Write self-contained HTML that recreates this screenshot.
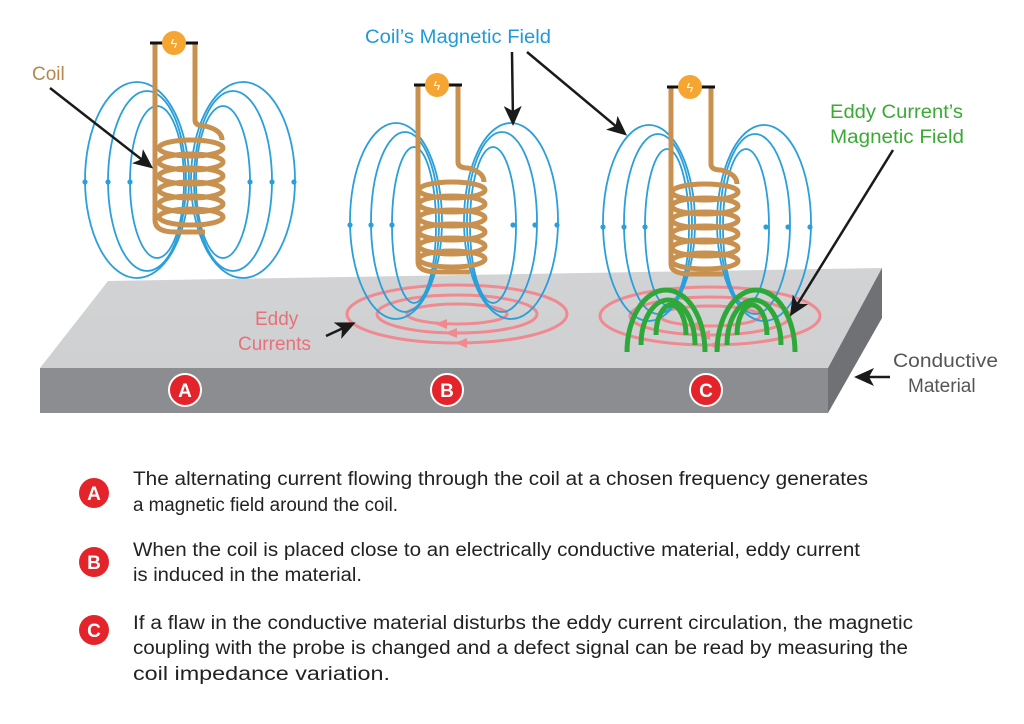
<!DOCTYPE html>
<html><head><meta charset="utf-8"><style>
html,body{margin:0;padding:0;background:#fff;}
svg{display:block;font-family:"Liberation Sans",sans-serif;}
</style></head><body>
<svg width="1024" height="724" viewBox="0 0 1024 724" xmlns="http://www.w3.org/2000/svg">
<defs>
<linearGradient id="top" x1="0" y1="0" x2="0" y2="1"><stop offset="0" stop-color="#d2d3d4"/><stop offset="1" stop-color="#cfd0d1"/></linearGradient>
<marker id="ahb" markerWidth="20" markerHeight="18" refX="16" refY="9" orient="auto" markerUnits="userSpaceOnUse"><path d="M0,0 L20,9 L0,18 L5,9 Z" fill="#1a1a1a"/></marker>
</defs>

<!-- slab -->
<polygon points="108,281 882,268 828,368 40,368" fill="url(#top)"/>
<polygon points="40,368 828,368 828,413 40,413" fill="#8b8d90"/>
<polygon points="828,368 882,268 882,318 828,413" fill="#6f7174"/>

<!-- Coil A field -->
<g fill="none" stroke="#2b9fd9" stroke-width="1.8">
<ellipse cx="137" cy="180" rx="52" ry="98"/>
<ellipse cx="147" cy="181" rx="39" ry="90"/>
<ellipse cx="157" cy="182" rx="27" ry="76"/>
<ellipse cx="243" cy="180" rx="52" ry="98"/>
<ellipse cx="233" cy="181" rx="39" ry="90"/>
<ellipse cx="223" cy="182" rx="27" ry="76"/>
</g>
<g fill="#2b9fd9"><circle cx="85" cy="182" r="2.6"/><circle cx="108" cy="182" r="2.6"/><circle cx="130" cy="182" r="2.6"/><circle cx="250" cy="182" r="2.6"/><circle cx="272" cy="182" r="2.6"/><circle cx="294" cy="182" r="2.6"/></g>
<!-- Coil A -->
<g fill="none" stroke="#c8914f" stroke-width="5">
<path d="M155,44 V220 Q155,232 175,232 H205"/>
<path d="M195,44 V120 Q195,126 205,126 Q222,130 222,140"/>
<ellipse cx="191" cy="148" rx="32" ry="8"/>
<ellipse cx="191" cy="162" rx="32" ry="8"/>
<ellipse cx="191" cy="176" rx="32" ry="8"/>
<ellipse cx="191" cy="190" rx="32" ry="8"/>
<ellipse cx="191" cy="204" rx="32" ry="8"/>
<ellipse cx="191" cy="217" rx="32" ry="8"/>
</g>
<path d="M150,43 H198" stroke="#111" stroke-width="3"/>
<circle cx="174" cy="43" r="12" fill="#f5a531"/>
<text x="174" y="48" font-size="13" fill="#fff" text-anchor="middle">ϟ</text>

<!-- B and C groups -->
<g id="grpB">
<g fill="none" stroke="#f08a90" stroke-width="3">
<ellipse cx="457" cy="314" rx="110" ry="29"/>
<ellipse cx="457" cy="314" rx="80" ry="19"/>
<ellipse cx="457" cy="314" rx="50" ry="10"/>
</g>
<g fill="#f08a90"><path d="M435,324 l12,-5 v10z"/><path d="M445,333 l12,-5 v10z"/><path d="M455,343 l12,-5 v10z"/></g>
<g fill="none" stroke="#2b9fd9" stroke-width="1.8">
<ellipse cx="396" cy="221" rx="46" ry="98"/>
<ellipse cx="405" cy="222" rx="34" ry="90"/>
<ellipse cx="414" cy="225" rx="22" ry="78"/>
<ellipse cx="511" cy="221" rx="47" ry="98"/>
<ellipse cx="502" cy="222" rx="35" ry="90"/>
<ellipse cx="493" cy="225" rx="23" ry="78"/>
</g>
<g fill="#2b9fd9"><circle cx="350" cy="225" r="2.6"/><circle cx="371" cy="225" r="2.6"/><circle cx="392" cy="225" r="2.6"/><circle cx="513" cy="225" r="2.6"/><circle cx="535" cy="225" r="2.6"/><circle cx="557" cy="225" r="2.6"/></g>
<g fill="none" stroke="#c8914f" stroke-width="5">
<path d="M418,86 V262 Q418,272 438,272 H470"/>
<path d="M458,86 V162 Q458,168 468,168 Q484,172 484,182"/>
<ellipse cx="452" cy="190" rx="33" ry="8"/>
<ellipse cx="452" cy="204" rx="33" ry="8"/>
<ellipse cx="452" cy="218" rx="33" ry="8"/>
<ellipse cx="452" cy="232" rx="33" ry="8"/>
<ellipse cx="452" cy="246" rx="33" ry="8"/>
<ellipse cx="452" cy="259" rx="33" ry="8"/>
</g>
<path d="M414,85 H462" stroke="#111" stroke-width="3"/>
<circle cx="437" cy="85" r="12" fill="#f5a531"/>
<text x="437" y="90" font-size="13" fill="#fff" text-anchor="middle">ϟ</text>
</g>
<use href="#grpB" transform="translate(253,2)"/>

<!-- green arcs at C -->
<g fill="none" stroke="#2fa83a" stroke-width="5">
<path d="M627,352 A39,62 0 0 1 705,352"/>
<path d="M641,345 A27,45 0 0 1 695,345"/>
<path d="M656,335 A15,30 0 0 1 686,335"/>
<path d="M717,352 A39,62 0 0 1 795,352"/>
<path d="M727,345 A27,45 0 0 1 781,345"/>
<path d="M737,335 A15,30 0 0 1 767,335"/>
</g>

<!-- badges on slab -->
<g font-weight="bold" font-size="19" text-anchor="middle" fill="#fff">
<circle cx="185" cy="390" r="16" fill="#e3242b" stroke="#fff" stroke-width="2"/><text x="185" y="397">A</text>
<circle cx="447" cy="390" r="16" fill="#e3242b" stroke="#fff" stroke-width="2"/><text x="447" y="397">B</text>
<circle cx="706" cy="390" r="16" fill="#e3242b" stroke="#fff" stroke-width="2"/><text x="706" y="397">C</text>
</g>

<!-- labels -->
<g font-size="19">
<text x="32" y="80" fill="#b8864c">Coil</text>
<text x="365" y="43" fill="#1f9ad6" textLength="186" lengthAdjust="spacingAndGlyphs">Coil’s Magnetic Field</text>
<text x="830" y="118" fill="#3aaa35" textLength="133" lengthAdjust="spacingAndGlyphs">Eddy Current’s</text>
<text x="830" y="143" fill="#3aaa35" textLength="134" lengthAdjust="spacingAndGlyphs">Magnetic Field</text>
<text x="255" y="325" fill="#e8707a">Eddy</text>
<text x="238" y="350" fill="#e8707a">Currents</text>
<text x="893" y="367" fill="#555" textLength="105" lengthAdjust="spacingAndGlyphs">Conductive</text>
<text x="908" y="392" fill="#555">Material</text>
</g>

<!-- arrows -->
<g stroke="#1a1a1a" stroke-width="2.5" fill="none">
<line x1="50" y1="88" x2="150" y2="166" marker-end="url(#ahb)"/>
<line x1="512" y1="52" x2="513" y2="122" marker-end="url(#ahb)"/>
<line x1="527" y1="52" x2="624" y2="133" marker-end="url(#ahb)"/>
<line x1="893" y1="150" x2="792" y2="313" marker-end="url(#ahb)"/>
<line x1="326" y1="336" x2="352" y2="324" marker-end="url(#ahb)"/>
<line x1="890" y1="377" x2="858" y2="377" marker-end="url(#ahb)"/>
</g>

<!-- bottom list -->
<g font-weight="bold" font-size="19" text-anchor="middle" fill="#fff">
<circle cx="94" cy="493" r="15" fill="#e3242b"/><text x="94" y="500">A</text>
<circle cx="94" cy="562" r="15" fill="#e3242b"/><text x="94" y="569">B</text>
<circle cx="94" cy="630" r="15" fill="#e3242b"/><text x="94" y="637">C</text>
</g>
<g font-size="19" fill="#222">
<text x="133" y="485" textLength="735" lengthAdjust="spacingAndGlyphs">The alternating current flowing through the coil at a chosen frequency generates</text>
<text x="133" y="511" textLength="265" lengthAdjust="spacingAndGlyphs">a magnetic field around the coil.</text>
<text x="133" y="556" textLength="727" lengthAdjust="spacingAndGlyphs">When the coil is placed close to an electrically conductive material, eddy current</text>
<text x="133" y="581" textLength="229" lengthAdjust="spacingAndGlyphs">is induced in the material.</text>
<text x="133" y="629" textLength="780" lengthAdjust="spacingAndGlyphs">If a flaw in the conductive material disturbs the eddy current circulation, the magnetic</text>
<text x="133" y="654" textLength="775" lengthAdjust="spacingAndGlyphs">coupling with the probe is changed and a defect signal can be read by measuring the</text>
<text x="133" y="680" textLength="257" lengthAdjust="spacingAndGlyphs">coil impedance variation.</text>
</g>
</svg>
</body></html>
